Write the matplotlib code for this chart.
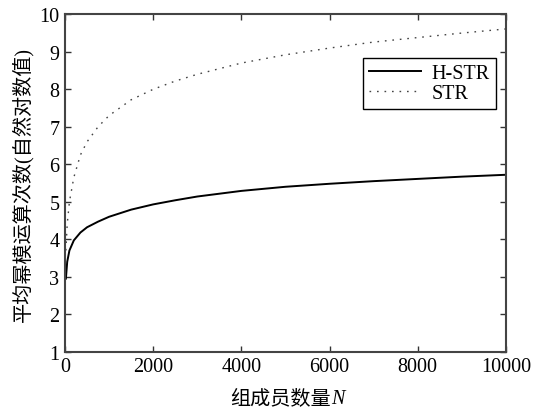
import numpy as np
import matplotlib
matplotlib.use("Agg")
import matplotlib.pyplot as plt

plt.rcParams['font.family'] = ['Liberation Serif', 'Noto Sans CJK SC']

# values
n_members = [20, 50, 100, 200, 350, 500, 750, 1000, 1500, 2000, 2500, 3000,
             4000, 5000, 6000, 7000, 8000, 9000, 10000]
h_str = [2.95, 3.40, 3.70, 3.97, 4.18, 4.32, 4.47, 4.60, 4.79, 4.93, 5.04, 5.14,
         5.29, 5.40, 5.48, 5.55, 5.61, 5.67, 5.72]
str_vals = [3.70, 4.40, 5.00, 5.65, 6.25, 6.60, 7.00, 7.30, 7.72, 8.00, 8.22, 8.40,
            8.70, 8.92, 9.10, 9.26, 9.38, 9.50, 9.61]

xticks = [0, 2000, 4000, 6000, 8000, 10000]
yticks = list(range(1, 11))

fig = plt.figure(figsize=(5.44, 4.14), dpi=100)
ax = fig.add_axes([0.1195, 0.148, 0.8105, 0.815])

ax.plot(n_members, h_str, color='black', lw=1.4, label='H-STR')
ax.plot(n_members, str_vals, color='#444444', lw=1.0, linestyle=(0, (1.2, 4.2)), label='STR')

ax.set_xlim(0, 10000)
ax.set_ylim(1, 10)
ax.set_xticks(xticks)
ax.set_yticks(yticks)
ax.tick_params(direction='in', top=True, right=True, length=4, width=1,
               labelsize=14.5, color='#333333', pad=4)
for s in ax.spines.values():
    s.set_linewidth(1.5)
    s.set_color('#444444')

# x label: chinese part plus italic N
ax.text(0.603, -0.14, '组成员数量', transform=ax.transAxes, ha='right', va='center',
        fontsize=14.5)
ax.text(0.603, -0.14, 'N', transform=ax.transAxes, ha='left', va='center',
        fontsize=14.5, style='italic', family='Liberation Serif')
ax.set_ylabel('平均幂模运算次数(自然对数值)', fontsize=14.5, labelpad=4)

leg = ax.legend(loc='upper right', bbox_to_anchor=(0.977, 0.872), fontsize=14.5,
                handlelength=2.6, fancybox=False, framealpha=1, edgecolor='black',
                borderpad=0.3, labelspacing=0.05, handletextpad=0.5, borderaxespad=0)
leg.get_frame().set_linewidth(1.0)

fig.savefig('out.png', dpi=100)
